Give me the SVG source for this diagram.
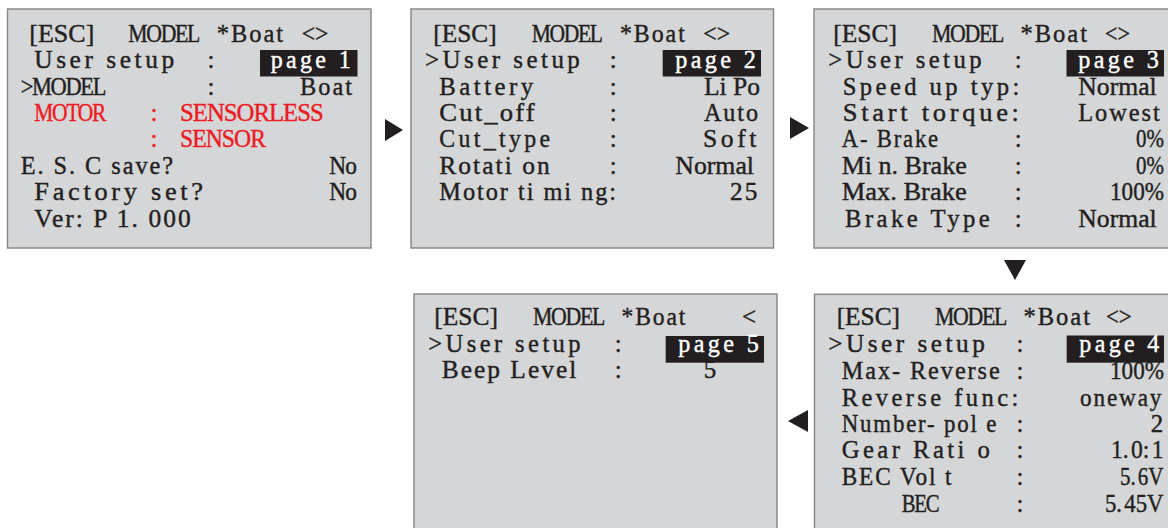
<svg xmlns="http://www.w3.org/2000/svg" width="1168" height="528" viewBox="0 0 1168 528" xml:space="preserve">
<style>
.p{fill:#d5d6d8;stroke:#8a8a8a;stroke-width:1.5}
.hl{fill:#231f20}
text{font-family:"Liberation Serif","Times New Roman",serif;font-size:25px;fill:#231f20;stroke:#231f20;stroke-width:0.4px;white-space:pre;letter-spacing:2px}
.r{fill:#ed1c24;stroke:#ed1c24}
.w{fill:#ffffff;stroke:#ffffff}
.m{text-anchor:middle;letter-spacing:0}
.t{letter-spacing:0}
.s{letter-spacing:-1px}
.n{letter-spacing:-1.5px}
.l{letter-spacing:3.5px}
.ns{font-size:10px}
.arr{fill:#231f20}
</style>
<rect width="1168" height="528" fill="#ffffff"/>
<g id="screen1">
<rect class="p" x="7.5" y="9" width="363.5" height="239"/>
<text class="t" x="29.3" y="42" textLength="65" lengthAdjust="spacingAndGlyphs">[ESC]</text>
<text class="n" x="128.3" y="42" textLength="70.7" lengthAdjust="spacingAndGlyphs">MODEL</text>
<text x="216.7" y="42" textLength="68.3" lengthAdjust="spacingAndGlyphs">*Boat</text>
<text class="t" x="301.7" y="42" textLength="26.6" lengthAdjust="spacingAndGlyphs">&lt;&gt;</text>
<text class="l" x="34.3" y="68" textLength="143.4" lengthAdjust="spacingAndGlyphs">User setup</text>
<text class="m" x="211" y="68">:</text>
<rect class="hl" x="260" y="50" width="97.5" height="26.5"/>
<text class="w l" x="270.7" y="68" textLength="83.3" lengthAdjust="spacingAndGlyphs">page 1</text>
<text class="n" x="20.7" y="95" textLength="84.3" lengthAdjust="spacingAndGlyphs">&gt;MODEL</text>
<text class="m" x="211" y="95">:</text>
<text x="300" y="95" textLength="54" lengthAdjust="spacingAndGlyphs">Boat</text>
<text class="r n" x="34.3" y="121" textLength="70.7" lengthAdjust="spacingAndGlyphs">MOTOR</text>
<text class="r m" x="154" y="121">:</text>
<text class="r s" x="180" y="121" textLength="142.7" lengthAdjust="spacingAndGlyphs">SENSORLESS</text>
<text class="r m" x="154" y="147">:</text>
<text class="r s" x="180" y="147" textLength="85" lengthAdjust="spacingAndGlyphs">SENSOR</text>
<text x="20.7" y="174" textLength="154.3" lengthAdjust="spacingAndGlyphs">E. S. C save?</text>
<text class="s" x="329.3" y="174" textLength="26.7" lengthAdjust="spacingAndGlyphs">No</text>
<text class="l" x="34.3" y="200" textLength="172.4" lengthAdjust="spacingAndGlyphs">Factory set?</text>
<text class="s" x="329.3" y="200" textLength="26.7" lengthAdjust="spacingAndGlyphs">No</text>
<text x="34.3" y="227" textLength="158.4" lengthAdjust="spacingAndGlyphs">Ver: P 1. 000</text>
</g>
<g id="screen2">
<rect class="p" x="411" y="9" width="362.5" height="239"/>
<text class="t" x="433.3" y="42" textLength="63.4" lengthAdjust="spacingAndGlyphs">[ESC]</text>
<text class="n" x="531.7" y="42" textLength="70" lengthAdjust="spacingAndGlyphs">MODEL</text>
<text x="620" y="42" textLength="66.7" lengthAdjust="spacingAndGlyphs">*Boat</text>
<text class="t" x="703.3" y="42" textLength="26.7" lengthAdjust="spacingAndGlyphs">&lt;&gt;</text>
<text class="l" x="425" y="68" textLength="158.3" lengthAdjust="spacingAndGlyphs">&gt;User setup</text>
<text class="m" x="613.3" y="68">:</text>
<rect class="hl" x="662.7" y="50" width="98.3" height="26.5"/>
<text class="w l" x="675.3" y="68" textLength="84" lengthAdjust="spacingAndGlyphs">page 2</text>
<text class="l" x="439.3" y="95" textLength="97.4" lengthAdjust="spacingAndGlyphs">Battery</text>
<text class="m" x="613.3" y="95">:</text>
<text class="t" x="704" y="95" textLength="56" lengthAdjust="spacingAndGlyphs">Li Po</text>
<text x="439.3" y="121" textLength="97.4" lengthAdjust="spacingAndGlyphs">Cut_off</text>
<text class="m" x="613.3" y="121">:</text>
<text x="704" y="121" textLength="56" lengthAdjust="spacingAndGlyphs">Auto</text>
<text class="l" x="439.3" y="147" textLength="114" lengthAdjust="spacingAndGlyphs">Cut_type</text>
<text class="m" x="613.3" y="147">:</text>
<text class="l" x="703" y="147" textLength="57" lengthAdjust="spacingAndGlyphs">Soft</text>
<text x="439.3" y="174" textLength="112.4" lengthAdjust="spacingAndGlyphs">Rotati on</text>
<text class="m" x="613.3" y="174">:</text>
<text class="t" x="675.3" y="174" textLength="78.7" lengthAdjust="spacingAndGlyphs">Normal</text>
<text x="439.3" y="200" textLength="178.7" lengthAdjust="spacingAndGlyphs">Motor ti mi ng:</text>
<text x="730" y="200" textLength="29.3" lengthAdjust="spacingAndGlyphs">25</text>
</g>
<g id="screen3">
<rect class="p" x="814" y="9" width="360" height="239"/>
<text class="t" x="833.3" y="42" textLength="63.7" lengthAdjust="spacingAndGlyphs">[ESC]</text>
<text class="n" x="932" y="42" textLength="71" lengthAdjust="spacingAndGlyphs">MODEL</text>
<text x="1020.5" y="42" textLength="68.5" lengthAdjust="spacingAndGlyphs">*Boat</text>
<text class="t" x="1105" y="42" textLength="25" lengthAdjust="spacingAndGlyphs">&lt;&gt;</text>
<text class="l" x="828.3" y="68" textLength="156.7" lengthAdjust="spacingAndGlyphs">&gt;User setup</text>
<text class="m" x="1018.3" y="68">:</text>
<rect class="hl" x="1066.5" y="50" width="97.5" height="26.5"/>
<text class="w l" x="1078.3" y="68" textLength="84" lengthAdjust="spacingAndGlyphs">page 3</text>
<text class="l" x="842.7" y="95" textLength="180" lengthAdjust="spacingAndGlyphs">Speed up typ:</text>
<text class="t" x="1078.3" y="95" textLength="78.4" lengthAdjust="spacingAndGlyphs">Normal</text>
<text class="l" x="842.7" y="121" textLength="180" lengthAdjust="spacingAndGlyphs">Start torque:</text>
<text x="1078.3" y="121" textLength="83.4" lengthAdjust="spacingAndGlyphs">Lowest</text>
<text x="841.7" y="147" textLength="98.3" lengthAdjust="spacingAndGlyphs">A- Brake</text>
<text class="m" x="1018.3" y="147">:</text>
<text class="t" x="1136" y="147" textLength="28" lengthAdjust="spacingAndGlyphs">0%</text>
<text class="t" x="841.7" y="173.5" textLength="125" lengthAdjust="spacingAndGlyphs">Mi n. Brake</text>
<text class="m" x="1018.3" y="173.5">:</text>
<text class="t" x="1136" y="173.5" textLength="28" lengthAdjust="spacingAndGlyphs">0%</text>
<text class="t" x="841.7" y="200" textLength="125" lengthAdjust="spacingAndGlyphs">Max. Brake</text>
<text class="m" x="1018.3" y="200">:</text>
<text class="t" x="1110" y="200" textLength="54" lengthAdjust="spacingAndGlyphs">100%</text>
<text class="l" x="845" y="226.7" textLength="148.3" lengthAdjust="spacingAndGlyphs">Brake Type</text>
<text class="m" x="1018.3" y="226.7">:</text>
<text class="t" x="1078.3" y="226.7" textLength="78.4" lengthAdjust="spacingAndGlyphs">Normal</text>
</g>
<g id="screen5">
<rect class="p" x="414" y="294" width="363" height="240"/>
<text class="t" x="434.3" y="325" textLength="63.7" lengthAdjust="spacingAndGlyphs">[ESC]</text>
<text class="n" x="533" y="325" textLength="71" lengthAdjust="spacingAndGlyphs">MODEL</text>
<text x="621.5" y="325" textLength="65.8" lengthAdjust="spacingAndGlyphs">*Boat</text>
<text class="m" x="749" y="325">&lt;</text>
<text class="l" x="428.3" y="351.7" textLength="155.7" lengthAdjust="spacingAndGlyphs">&gt;User setup</text>
<text class="m" x="618.3" y="351.7">:</text>
<rect class="hl" x="665.7" y="336" width="98.3" height="26.7"/>
<text class="w l" x="678.3" y="351.7" textLength="84" lengthAdjust="spacingAndGlyphs">page 5</text>
<text x="441.7" y="378.3" textLength="136.6" lengthAdjust="spacingAndGlyphs">Beep Level</text>
<text class="m" x="618.3" y="378.3">:</text>
<text class="m" x="710" y="378.3">5</text>
</g>
<g id="screen4">
<rect class="p" x="814.5" y="294.3" width="360" height="240"/>
<text class="t" x="836.7" y="325" textLength="63.3" lengthAdjust="spacingAndGlyphs">[ESC]</text>
<text class="n" x="935" y="325" textLength="71" lengthAdjust="spacingAndGlyphs">MODEL</text>
<text x="1023.5" y="325" textLength="68.5" lengthAdjust="spacingAndGlyphs">*Boat</text>
<text class="t" x="1106" y="325" textLength="25.7" lengthAdjust="spacingAndGlyphs">&lt;&gt;</text>
<text class="l" x="828.3" y="351.7" textLength="160" lengthAdjust="spacingAndGlyphs">&gt;User setup</text>
<text class="m" x="1020" y="351.7">:</text>
<rect class="hl" x="1066.7" y="335.5" width="97.3" height="27.2"/>
<text class="w l" x="1079.3" y="351.7" textLength="83.4" lengthAdjust="spacingAndGlyphs">page 4</text>
<text x="841.7" y="379.3" textLength="160" lengthAdjust="spacingAndGlyphs">Max- Reverse</text>
<text class="m" x="1020" y="379.3">:</text>
<text class="t" x="1110" y="379.3" textLength="54" lengthAdjust="spacingAndGlyphs">100%</text>
<text class="l" x="841.7" y="406" textLength="180" lengthAdjust="spacingAndGlyphs">Reverse func:</text>
<text x="1080" y="406" textLength="83.3" lengthAdjust="spacingAndGlyphs">oneway</text>
<text x="841.7" y="431.7" textLength="156.6" lengthAdjust="spacingAndGlyphs">Number- pol e</text>
<text class="m" x="1020" y="431.7">:</text>
<text class="m" x="1157" y="431.7">2</text>
<text class="l" x="841.7" y="458.3" textLength="151.6" lengthAdjust="spacingAndGlyphs">Gear Rati o</text>
<text class="m" x="1020" y="458.3">:</text>
<text class="t" x="1111" y="458.3" textLength="52.5" lengthAdjust="spacingAndGlyphs">1.<tspan class="ns"> </tspan>0:<tspan class="ns"> </tspan>1</text>
<text x="841.7" y="485" textLength="111.6" lengthAdjust="spacingAndGlyphs">BEC Vol t</text>
<text class="m" x="1020" y="485">:</text>
<text class="t" x="1120" y="485" textLength="43.5" lengthAdjust="spacingAndGlyphs">5.<tspan class="ns"> </tspan>6V</text>
<text class="n" x="901.7" y="511.7" textLength="36.6" lengthAdjust="spacingAndGlyphs">BEC</text>
<text class="m" x="1020" y="511.7">:</text>
<text class="t" x="1105" y="511.7" textLength="58.5" lengthAdjust="spacingAndGlyphs">5.<tspan class="ns"> </tspan>45V</text>
</g>
<g id="connectors">
<polygon class="arr" points="385,119 403,130 385,141"/>
<polygon class="arr" points="790,117 809,128 790,139"/>
<polygon class="arr" points="1004,260 1026,260 1015,280"/>
<polygon class="arr" points="808,410 808,432 788,421"/>
</g>
</svg>
